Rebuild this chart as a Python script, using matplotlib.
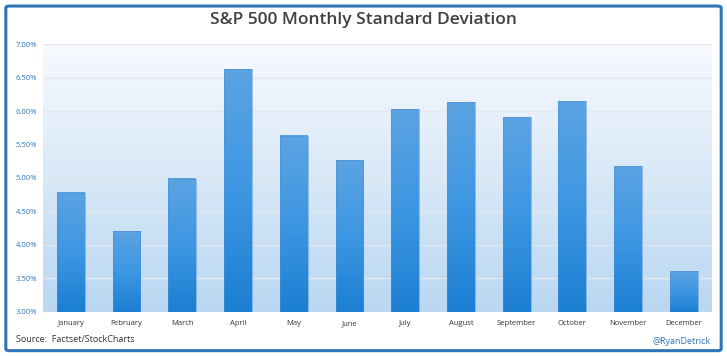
import matplotlib
matplotlib.use("Agg")
import matplotlib.pyplot as plt
import numpy as np
from matplotlib.patches import FancyBboxPatch
from matplotlib.ticker import FuncFormatter
from matplotlib.colors import LinearSegmentedColormap

months = ["January", "February", "March", "April", "May", "June",
          "July", "August", "September", "October", "November", "December"]
std_dev = [4.78, 4.21, 4.99, 6.63, 5.63, 5.27, 6.03, 6.13, 5.91, 6.15, 5.18, 3.61]

plt.rcParams['font.family'] = ['Open Sans', 'DejaVu Sans']

fig = plt.figure(figsize=(7.27, 3.56), dpi=100)
ax = fig.add_axes([0.059, 0.124, 0.92, 0.752])

# light gradient behind the bars
bg = np.linspace(0, 1, 256).reshape(-1, 1)
bg_cmap = LinearSegmentedColormap.from_list("bg", ["#f7fafe", "#b9d7f1"])
ax.imshow(bg, cmap=bg_cmap, aspect="auto", extent=[0, 1, 0, 1],
          transform=ax.transAxes, zorder=0)

x = np.arange(len(months))
bars = ax.bar(x, std_dev, width=0.5, color="none", zorder=2)

bar_cmap = LinearSegmentedColormap.from_list("bars", ["#1b7fd2", "#3d97e3", "#5ca3e2"])
grad = np.linspace(0, 1, 256).reshape(-1, 1)
for b in bars:
    x0 = b.get_x()
    w = b.get_width()
    top = b.get_height()
    ax.imshow(grad, cmap=bar_cmap, aspect="auto", origin="lower",
              extent=[x0, x0 + w, 3.0, top], zorder=3)
    ax.plot([x0, x0, x0 + w, x0 + w], [3.0, top, top, 3.0],
            color="#4a8fd0", lw=0.6, alpha=0.6, zorder=4)

ax.set_xlim(-0.5, len(months) - 0.5)
ax.set_ylim(3.0, 7.0)
ax.set_yticks(np.arange(3.0, 7.01, 0.5))
ax.yaxis.set_major_formatter(FuncFormatter(lambda v, p: f"{v:.2f}%"))
ax.grid(axis="y", color="#e4e8ec", lw=1, zorder=1)
ax.set_axisbelow(True)
ax.set_xticks(x)
ax.set_xticklabels(months, fontsize=5.5, color="#333333")
ax.tick_params(axis="y", labelsize=5.5, labelcolor="#2e75b6", length=0, pad=4)
ax.tick_params(axis="x", length=0, pad=6)
for s in ax.spines.values():
    s.set_visible(False)

fig.text(0.5, 0.944, "S&P 500 Monthly Standard Deviation", ha="center", va="center",
         fontsize=12.5, fontweight="semibold", color="#404040")
fig.text(0.022, 0.045, "Source:  Factset/StockCharts", ha="left", va="center",
         fontsize=6.5, color="#333333")
fig.text(0.978, 0.04, "@RyanDetrick", ha="right", va="center",
         fontsize=6.5, color="#2e75b6")

border = FancyBboxPatch((0.008, 0.015), 0.984, 0.968, boxstyle="round,pad=0,rounding_size=0.005",
                        transform=fig.transFigure, fill=False, ec="#2e75b6", lw=2.2)
fig.patches.append(border)

fig.savefig("out.png", dpi=100, facecolor="white")
